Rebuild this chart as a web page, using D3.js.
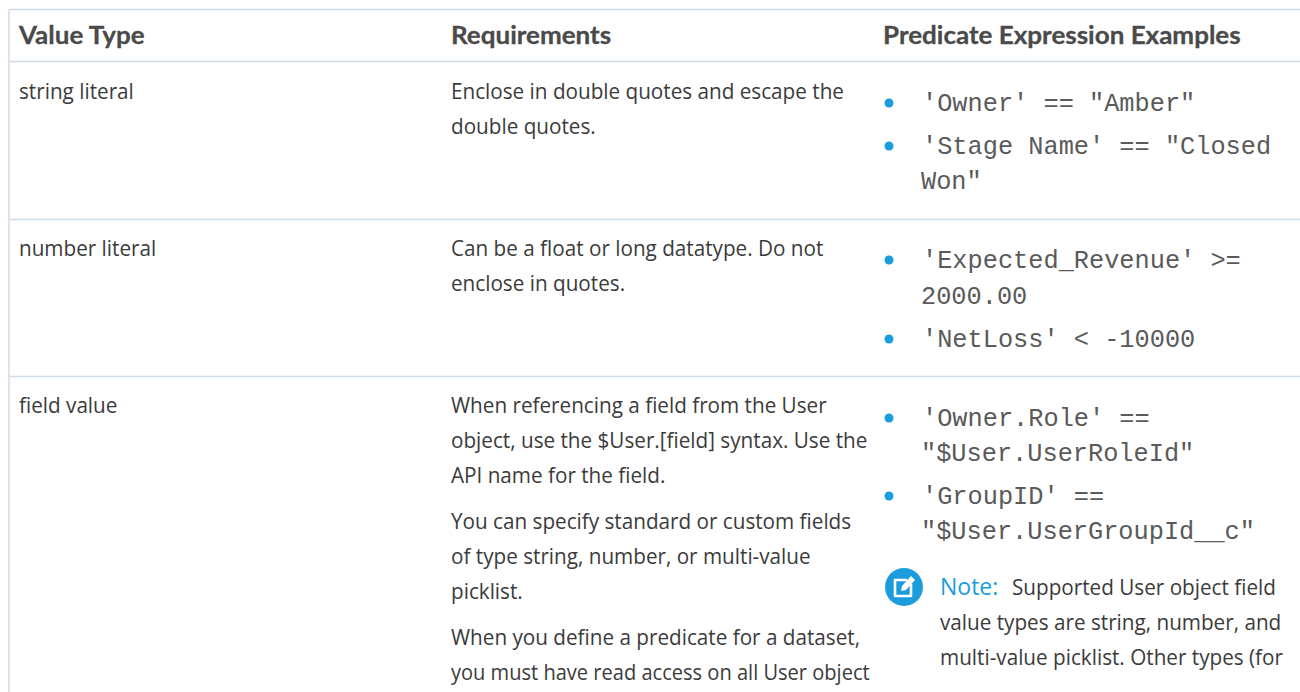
<!DOCTYPE html>
<html>
<head>
<meta charset="utf-8">
<script src="https://cdn.jsdelivr.net/npm/d3@7"></script>
<style>
    html, body { margin: 0; padding: 0; background: #fff; overflow: hidden; }
    .head { font-family: Lato, sans-serif; font-weight: 700; font-size: 25px; fill: #4a4a4a; stroke: #4a4a4a; stroke-width: 0.3px; }
    .body { font-family: "Open Sans", sans-serif; font-size: 21px; fill: #3b3b3b; }
    .code { font-family: "Liberation Mono", monospace; font-size: 25.3px; fill: #5a5a5a; }
    .note { font-family: "Open Sans", sans-serif; font-size: 23px; fill: #1b9ddb; }
</style>
</head>
<body>
<svg id="table" width="1300" height="692"></svg>
<script>
const columns = ["Value Type", "Requirements", "Predicate Expression Examples"];
const valueTypes = ["string literal", "number literal", "field value"];
const requirements = [
    [["Enclose in double quotes and escape the", "double quotes."]],
    [["Can be a float or long datatype. Do not", "enclose in quotes."]],
    [
        ["When referencing a field from the User", "object, use the $User.[field] syntax. Use the", "API name for the field."],
        ["You can specify standard or custom fields", "of type string, number, or multi-value", "picklist."],
        ["When you define a predicate for a dataset,", "you must have read access on all User object"]
    ]
];
const examples = [
    [["'Owner' == \"Amber\""], ["'Stage Name' == \"Closed", "Won\""]],
    [["'Expected_Revenue' >=", "2000.00"], ["'NetLoss' < -10000"]],
    [["'Owner.Role' ==", "\"$User.UserRoleId\""], ["'GroupID' ==", "\"$User.UserGroupId__c\""]]
];
const noteLabel = "Note:";
const noteLines = ["Supported User object field", "value types are string, number, and", "multi-value picklist. Other types (for"];

const svg = d3.select("#table");
const width = 1300;
const ruleColor = "#d0dbe6";
const borderColor = "#dde3ea";
const blue = "#1b9ddb";
const bodySqueeze = 0.985;
const tightSqueeze = 0.955;  // last line of the field value row is set tighter
const headSqueeze = 1.04;

// columns and row rules
const x = d3.scaleOrdinal().domain(columns).range([19, 451, 883]);
const ruleY = [9.5, 61.5, 219.5, 376.5];
const rowY = d3.scaleOrdinal().domain(valueTypes).range([99, 256, 413]);
const lineH = 35;
const paraGap = 11;

svg.selectAll("line.rule")
    .data(ruleY)
    .enter().append("line")
    .attr("class", "rule")
    .attr("x1", 9).attr("x2", width)
    .attr("y1", d => d).attr("y2", d => d)
    .attr("stroke", ruleColor).attr("stroke-width", 1.5);

svg.append("line")
    .attr("x1", 9).attr("x2", 9)
    .attr("y1", 9).attr("y2", 692)
    .attr("stroke", borderColor).attr("stroke-width", 2);

function squeezed(sel, factor) {
    sel.each(function () {
        const len = this.getComputedTextLength();
        d3.select(this).attr("textLength", len * factor).attr("lengthAdjust", "spacingAndGlyphs");
    });
}

svg.selectAll("text.head")
    .data(columns)
    .enter().append("text")
    .attr("class", "head")
    .attr("x", d => x(d))
    .attr("y", 44)
    .text(d => d)
    .call(squeezed, headSqueeze);

svg.selectAll("text.type")
    .data(valueTypes)
    .enter().append("text")
    .attr("class", "body type")
    .attr("x", x(columns[0]))
    .attr("y", d => rowY(d))
    .text(d => d)
    .call(squeezed, bodySqueeze);

// requirements column, paragraphs stacked from each row's first baseline
requirements.forEach((paras, r) => {
    let y = rowY(valueTypes[r]);
    paras.forEach(lines => {
        lines.forEach(t => {
            svg.append("text")
                .attr("class", "body")
                .attr("x", x(columns[1]))
                .attr("y", y)
                .text(t)
                .call(squeezed, t.startsWith("you must") ? tightSqueeze : bodySqueeze);
            y += lineH;
        });
        y += paraGap;
    });
});

// examples column with bullets
const codeStart = [111, 268, 426];
const codeLineH = [35, 36, 35];
const itemGap = [8, 7, 8];
const noteY = 595;
examples.forEach((items, r) => {
    let y = codeStart[r];
    items.forEach(lines => {
        svg.append("circle")
            .attr("cx", 889).attr("cy", y - 8).attr("r", 4.5)
            .attr("fill", blue);
        lines.forEach((t, i) => {
            svg.append("text")
                .attr("class", "code")
                .attr("x", i === 0 ? 922 : 921)
                .attr("y", y)
                .attr("xml:space", "preserve")
                .text(t);
            y += codeLineH[r];
        });
        y += itemGap[r];
    });
});

// note icon
const icon = svg.append("g").attr("transform", "translate(904,587)");
icon.append("circle").attr("r", 19).attr("fill", blue);
icon.append("path")
    .attr("d", "M3,-7H-9V9H7V-3")
    .attr("fill", "none").attr("stroke", "#fff").attr("stroke-width", 2.6).attr("stroke-linejoin", "round");
icon.append("path")
    .attr("d", "M-3,4L-2,-1L7,-11L11,-7L2,3Z")
    .attr("fill", "#fff");

svg.append("text")
    .attr("class", "note")
    .attr("x", 940).attr("y", noteY)
    .text(noteLabel);

svg.selectAll("text.noteLine")
    .data(noteLines)
    .enter().append("text")
    .attr("class", "body noteLine")
    .attr("x", (d, i) => i === 0 ? 1012 : 940)
    .attr("y", (d, i) => noteY + i * lineH)
    .text(d => d)
    .call(squeezed, bodySqueeze);
</script>
</body>
</html>
